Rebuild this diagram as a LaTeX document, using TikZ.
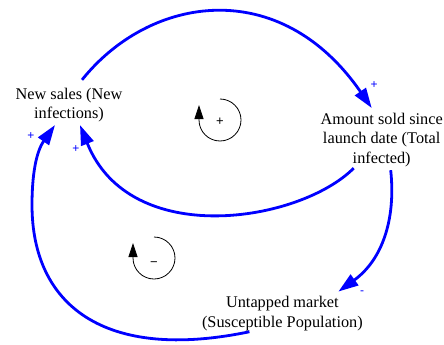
\documentclass[tikz,border=0pt]{standalone}
\usepackage{fontspec}
\setmainfont{Liberation Serif}
\newfontfamily\signfont{Liberation Sans}
\usetikzlibrary{arrows.meta}
\begin{document}
\begin{tikzpicture}[x=1pt,y=-1pt,
  var/.style={inner sep=0pt, align=center, font=\fontsize{16.3}{19.5}\selectfont},
  link/.style={draw=blue, line width=2.8pt, -{Triangle[length=20pt,width=13pt]}},
  polarity/.style={text=blue, font=\signfont\fontsize{12}{13}\selectfont, inner sep=0pt},
  loopline/.style={draw=black, line width=0.8pt, -{Triangle[length=14pt,width=9pt]}},
  loopsign/.style={font=\signfont\fontsize{13}{14}\selectfont, inner sep=0pt}]
\useasboundingbox (0,0) rectangle (444,345);

% stocks and flows of the diffusion model
\node[var] (news)   at (69,105.2)    {New sales (New\\infections)};
\node[var] (amount) at (381.7,139.6) {Amount sold since\\launch date (Total\\infected)};
\node[var] (market) at (282.4,313.4) {Untapped market\\(Susceptible Population)};

% causal links
\draw[link] ([shift={(13,-8)}]news.north)
  .. controls (150,-5) and (280,-25) .. ([shift={(-10,-4.5)}]amount.north);
\draw[link] ([shift={(-28,1.5)}]amount.south)
  .. controls (300,222) and (130,250) .. ([shift={(11,2.5)}]news.south);
\draw[link] ([shift={(9,3.5)}]amount.south)
  .. controls (396,220) and (382,260) .. ([shift={(56,-4.5)}]market.north);
\draw[link] ([shift={(-33,1)}]market.south)
  .. controls (104,362) and (32,305) .. (32,205)
  .. controls (32,175) and (36,152) .. ([shift={(-14,2.5)}]news.south);

% link polarities
\node[polarity] (pa) at (374,85)  {+};
\node[polarity] (pb) at (76,149)  {+};
\node[polarity] (pc) at (31,136)  {+};
\node[polarity] (pd) at (362,293) {-};

% loop identifiers
\draw[loopline] (220,99) arc[start angle=-90, end angle=180, radius=21] -- ++(0,-15);
\node[loopsign] (rloop) at (220,122) {+};
\draw[loopline] (154,237) arc[start angle=-90, end angle=180, radius=21] -- ++(0,-15);
\node[loopsign] (bloop) at (154,264) {−};
\end{tikzpicture}
\end{document}
